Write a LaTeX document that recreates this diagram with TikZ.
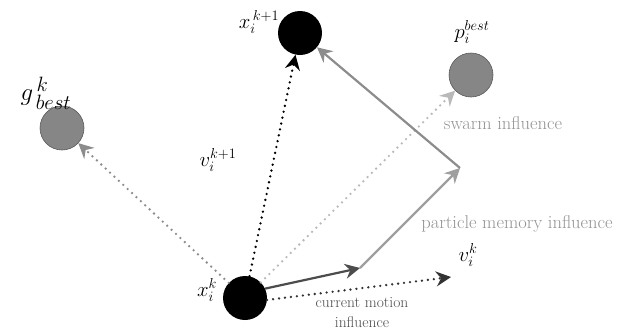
\documentclass[tikz,border=0pt]{standalone}
\usepackage{amsmath}
\usepackage{tikz}
\usetikzlibrary{arrows.meta, positioning, calc}

\tikzset{
  particle/.style={circle, fill=black, minimum size=44pt, inner sep=0pt},
  bestpos/.style={circle, fill=gray!95!white, draw=gray!70!black, line width=0.6pt, minimum size=44pt, inner sep=0pt},
  dotline/.style={line width=2.6pt, line cap=round, dash pattern=on 0pt off 6pt},
  tip/.style={-{Stealth[length=15pt, width=15pt, inset=5pt]}},
  influence/.style={font=\fontsize{18.5}{21}\selectfont, text=gray!85!white},
  symb/.style={font=\fontsize{21}{24}\selectfont, inner sep=0pt}
}

\begin{document}
\begin{tikzpicture}[x=1pt, y=-1pt]
  \useasboundingbox (0,0) rectangle (617,335);
  % Particles and best positions
  \node[particle] (xk) at (245,298) {};
  \node[particle] (xnext) at (300,33) {};
  \node[bestpos] (gbest) at (62,128) {};
  \node[bestpos] (pbest) at (471,75) {};
  % Corners of the velocity sum
  \coordinate (cur) at (360,268);
  \coordinate (mem) at (460,168);
  \coordinate (vend) at (451,277);
  % Labels of the points
  \node[symb] (lxk) at (207,290) {$x_i^k$};
  \node[symb] (lxnext) at (259,22) {$x_i^{\,k+1}$};
  \node[font=\fontsize{30}{32}\selectfont, inner sep=0pt] (lgbest) at (46,93) {$g^{\,k}_{\,best}$};
  \node[symb] (lpbest) at (472,32) {$p_i^{best}$};
  \node[symb] (lvnext) at (218,160) {$v_i^{k+1}$};
  \node[symb] (lvk) at (468,255) {$v_i^k$};
  % Dotted directions
  \draw[dotline, gray!90!white, tip] (xk) -- (gbest);
  \draw[dotline, black, tip] (xk) -- (xnext);
  \draw[dotline, gray!55!white, tip] (xk) -- (pbest);
  \draw[dotline, black!80, tip] (xk.-5) -- (vend);
  % Velocity components
  \draw[line width=2.2pt, black!70, tip] (xk.25) -- (cur);
  \draw[line width=2.2pt, gray!75!white, tip] (cur) -- (mem);
  \draw[line width=2.2pt, gray!90!white, tip] (mem) -- (xnext);
  % Influence texts
  \node[influence] (swarm) at (503,123) {swarm influence};
  \node[influence] (memory) at (517,224) {particle memory influence};
  \node[influence, text=black!70, align=center, font=\fontsize{15.5}{20}\selectfont] (motion) at (362,313) {current motion\\influence};
\end{tikzpicture}
\end{document}
